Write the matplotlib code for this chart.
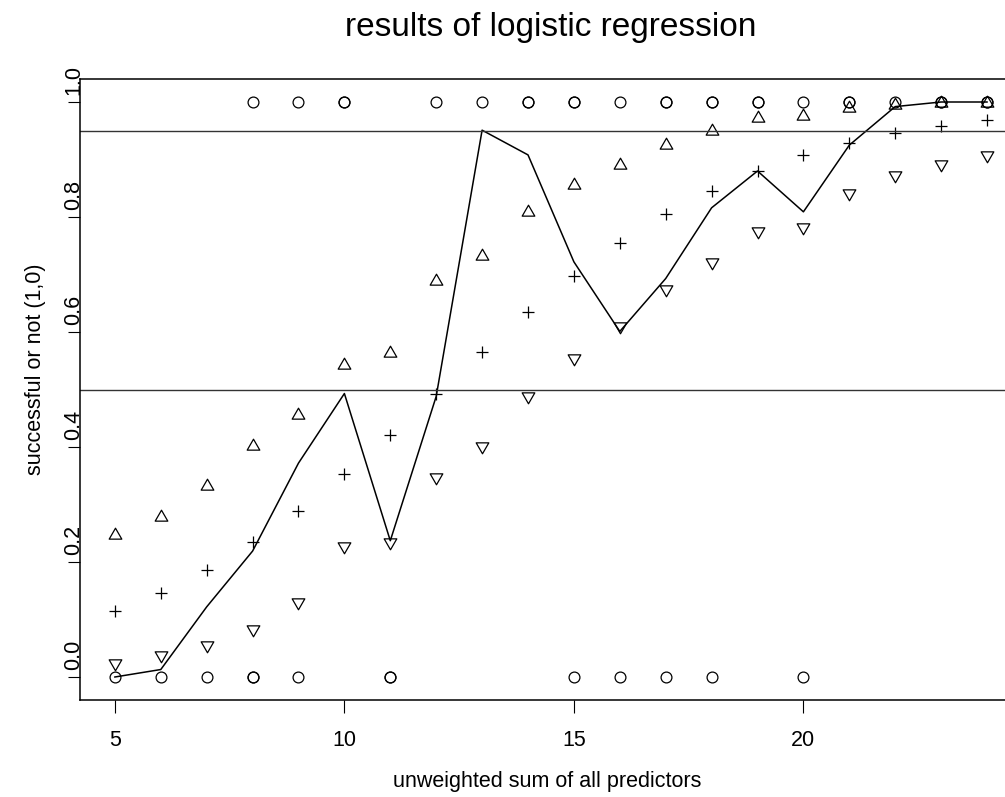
import matplotlib
matplotlib.use("Agg")
import matplotlib.pyplot as plt
from matplotlib.path import Path
from matplotlib.transforms import ScaledTranslation

plt.rcParams['font.family'] = ['Liberation Sans', 'DejaVu Sans']

# predictor sums
x = [5, 6, 7, 8, 9, 10, 11, 12, 13, 14, 15, 16, 17, 18, 19, 20, 21, 22, 23, 24]

# observed proportion successful per sum
prop = [0.0, 0.013, 0.122, 0.219, 0.372, 0.493, 0.237, 0.488, 0.951, 0.908,
        0.722, 0.601, 0.693, 0.816, 0.880, 0.809, 0.925, 0.992, 1.0, 1.0]

# fitted values and confidence bounds
fit = [0.114, 0.146, 0.186, 0.234, 0.289, 0.353, 0.421, 0.493, 0.565, 0.634,
       0.697, 0.755, 0.805, 0.846, 0.880, 0.907, 0.929, 0.946, 0.958, 0.969]
upper = [0.247, 0.278, 0.333, 0.401, 0.455, 0.543, 0.563, 0.688, 0.732, 0.809,
         0.856, 0.890, 0.925, 0.950, 0.972, 0.975, 0.990, 0.994, 0.998, 0.999]
lower = [0.024, 0.038, 0.055, 0.084, 0.131, 0.227, 0.234, 0.347, 0.402, 0.489,
         0.555, 0.611, 0.674, 0.722, 0.776, 0.783, 0.842, 0.873, 0.893, 0.907]

# individual outcomes (0/1), repeated where points overlap
obs_x = [5, 6, 7, 8, 8, 9, 11, 11, 15, 16, 17, 18, 20,
         8, 9, 10, 10, 12, 13, 14, 14, 15, 15, 16, 17, 17, 18, 18, 19, 19,
         20, 21, 21, 22, 23, 23, 24, 24]
obs_y = [0] * 13 + [1] * 25

cut_lines = [0.5, 0.95]

# R-style pch 2 / pch 6 triangles
r0, r1, r2 = 1.5551, 1.3468, 0.7776
tri_up = Path([(0, r0), (r1, -r2), (-r1, -r2), (0, r0)],
              [Path.MOVETO, Path.LINETO, Path.LINETO, Path.CLOSEPOLY])
tri_dn = Path([(0, -r0), (r1, r2), (-r1, r2), (0, -r0)],
              [Path.MOVETO, Path.LINETO, Path.LINETO, Path.CLOSEPOLY])

fig = plt.figure(figsize=(10.05, 7.97), dpi=100)
ax = fig.add_axes([80 / 1005, 97 / 797, 941.9 / 1005, 621 / 797])

ax.plot(obs_x, obs_y, 'o', ms=7.8, mfc='none', mec='black', mew=0.9)
ax.plot(x, prop, '-', color='black', lw=1.1)
ax.plot(x, fit, '+', ms=9, color='black', mew=0.9)
ax.plot(x, upper, ls='none', marker=tri_up, ms=10.5, mfc='none', mec='black', mew=0.9)
ax.plot(x, lower, ls='none', marker=tri_dn, ms=10.5, mfc='none', mec='black', mew=0.9)
for h in cut_lines:
    ax.axhline(h, color='#333333', lw=1.0)

ax.set_xlim(4.24, 24.76)
ax.set_ylim(-0.04, 1.04)
ax.set_xticks([5, 10, 15, 20])
ax.set_yticks([0.0, 0.2, 0.4, 0.6, 0.8, 1.0])
ax.set_yticklabels(['0.0', '0.2', '0.4', '0.6', '0.8', '1.0'])
ax.tick_params(axis='both', length=9, width=0.8, labelsize=15.5, direction='out')
ax.tick_params(axis='x', pad=12.5)
ax.tick_params(axis='y', pad=-12)
for lab in ax.get_yticklabels():
    lab.set_rotation(90)
    lab.set_va('center')
    lab.set_transform(lab.get_transform() + ScaledTranslation(0, 0.22, fig.dpi_scale_trans))
for s in ax.spines.values():
    s.set_linewidth(1.1)

ax.set_title('results of logistic regression', fontsize=24, pad=31)
ax.set_xlabel('unweighted sum of all predictors', fontsize=15.5)
ax.xaxis.set_label_coords(0.496, -0.115)
ax.set_ylabel('successful or not (1,0)', fontsize=15.5)
ax.yaxis.set_label_coords(-0.036, 0.533)

fig.savefig('out.png', dpi=100)
